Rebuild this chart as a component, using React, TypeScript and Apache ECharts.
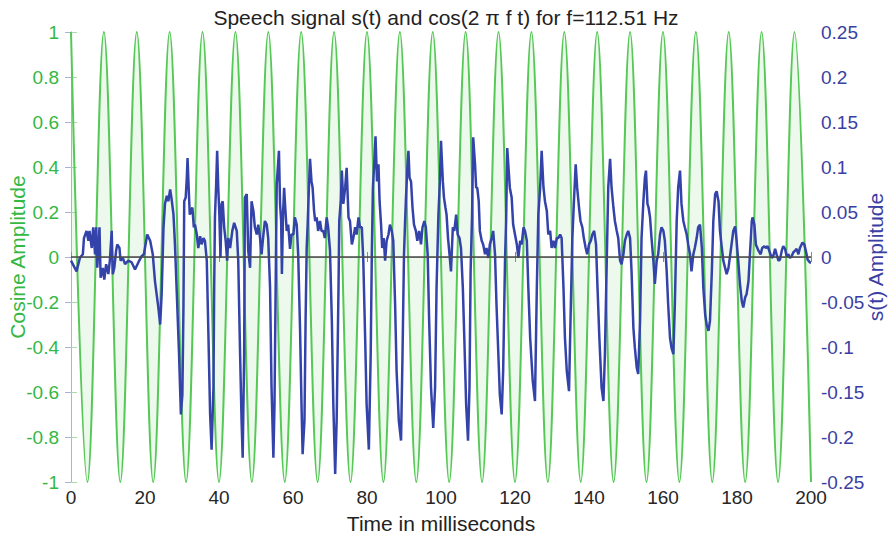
import React, { useEffect, useRef } from "react";
import * as echarts from "echarts";

// Cosine extrema (ms): peaks/troughs of the green curve
const cosTimes = [
  0, 4.444, 8.888, 13.332, 17.776, 22.22, 26.665, 31.109, 35.553, 39.997,
  44.441, 48.885, 53.329, 57.773, 62.217, 66.661, 71.106, 75.55, 79.994, 84.438,
  88.882, 93.326, 97.77, 102.214, 106.658, 111.102, 115.547, 119.991, 124.435, 128.879,
  133.323, 137.767, 142.211, 146.655, 151.099, 155.543, 159.988, 164.432, 168.876, 173.32,
  177.764, 182.208, 186.652, 191.096, 195.54, 200,
];
const cosValues = [
  1, -1, 1, -1, 1, -1, 1, -1, 1, -1,
  1, -1, 1, -1, 1, -1, 1, -1, 1, -1,
  1, -1, 1, -1, 1, -1, 1, -1, 1, -1,
  1, -1, 1, -1, 1, -1, 1, -1, 1, -1,
  1, -1, 1, -1, 1, -1,
];

const speechTimes = [
  0, 1.5, 2.4, 3.2, 3.5, 4.2, 4.7, 5.0, 5.6, 6.0, 6.5, 6.8, 7.1, 7.7, 8.0, 8.6, 9.0, 9.5, 10.1, 10.5,
  11.0, 11.3, 11.7, 12.2, 12.5, 13.1, 13.4, 14.0, 14.6, 15.5, 16.4, 17.3, 18.2, 19.1, 19.7, 20.6, 21.4, 22.1, 22.7, 23.6,
  24.1, 24.5, 25.0, 25.4, 25.9, 26.3, 26.8, 27.2, 27.7, 28.1, 28.6, 29.2, 29.7, 30.1, 30.4, 30.6, 31.0, 31.3, 31.5, 31.8,
  32.1, 32.4, 32.8, 33.2, 33.5, 34.0, 34.4, 34.9, 35.3, 35.8, 36.2, 36.7, 37.1, 37.6, 38.0, 38.5, 38.7, 38.9, 39.2, 39.5,
  39.8, 40.1, 40.4, 40.7, 41.0, 41.4, 41.8, 42.2, 42.5, 43.0, 43.6, 44.1, 44.8, 45.2, 45.7, 46.1, 46.4, 46.8, 47.0, 47.5,
  47.9, 48.4, 48.8, 49.3, 49.7, 50.2, 50.6, 51.1, 51.5, 52.0, 52.4, 52.9, 53.3, 53.8, 54.2, 54.7, 55.0, 55.4, 55.6, 55.9,
  56.2, 56.5, 56.8, 57.0, 57.3, 57.6, 57.9, 58.3, 58.7, 59.2, 59.6, 60.1, 60.5, 61.0, 61.4, 61.9, 62.3, 62.6, 63.1, 63.4,
  63.7, 64.0, 64.3, 64.6, 65.0, 65.3, 65.7, 66.0, 66.4, 66.8, 67.3, 67.7, 68.2, 68.6, 69.1, 69.5, 70.0, 70.5, 70.9, 71.4,
  71.8, 72.3, 72.5, 72.9, 73.2, 73.6, 74.1, 74.5, 75.0, 75.4, 75.9, 76.3, 76.8, 77.2, 77.7, 78.1, 78.6, 79.0, 79.5, 79.9,
  80.5, 81.0, 81.3, 81.6, 82.0, 82.3, 82.7, 83.1, 83.4, 83.8, 84.1, 84.5, 84.9, 85.3, 85.8, 86.2, 86.7, 87.1, 87.6, 88.0,
  88.6, 89.2, 89.6, 90.0, 90.3, 90.5, 90.9, 91.2, 91.5, 91.9, 92.3, 92.7, 93.2, 93.6, 94.1, 94.6, 95.0, 95.5, 95.9, 96.4,
  96.8, 97.3, 97.9, 98.4, 98.8, 99.3, 99.7, 100.0, 100.5, 100.8, 101.2, 101.5, 101.9, 102.3, 102.7, 103.2, 103.6, 104.1, 104.5, 105.0,
  105.4, 105.9, 106.3, 106.8, 107.3, 107.7, 108.0, 108.4, 108.7, 109.2, 109.5, 109.8, 110.2, 110.5, 111.0, 111.4, 111.9, 112.3, 112.8, 113.2,
  113.7, 114.1, 114.6, 115.0, 115.5, 115.9, 116.4, 116.8, 117.3, 117.6, 117.9, 118.3, 118.6, 119.1, 119.5, 120.0, 120.5, 120.9, 121.4, 121.8,
  122.3, 122.7, 123.2, 123.6, 124.1, 124.8, 125.4, 125.9, 126.3, 126.8, 127.2, 127.7, 128.1, 128.6, 129.0, 129.5, 129.9, 130.4, 130.8, 131.3,
  131.7, 132.2, 132.6, 133.1, 133.5, 134.0, 134.6, 135.0, 135.5, 135.9, 136.4, 136.8, 137.3, 137.7, 138.2, 138.6, 139.1, 139.5, 140.0, 140.5,
  140.9, 141.4, 141.9, 142.3, 142.8, 143.4, 143.9, 144.3, 144.8, 145.2, 145.7, 146.1, 146.6, 147.0, 147.5, 147.9, 148.4, 148.8, 149.3, 149.7,
  150.2, 150.6, 151.1, 151.5, 152.0, 152.4, 152.9, 153.3, 153.8, 154.2, 154.7, 155.1, 155.4, 155.8, 156.1, 156.5, 156.9, 157.4, 157.8, 158.3,
  158.7, 159.2, 159.6, 160.1, 160.5, 161.0, 161.4, 161.9, 162.3, 162.8, 163.2, 163.7, 164.1, 164.6, 165.0, 165.5, 165.9, 166.4, 166.8, 167.3,
  167.7, 168.2, 168.6, 169.1, 169.5, 170.0, 170.5, 170.9, 171.4, 171.8, 172.3, 172.7, 173.2, 173.6, 174.1, 174.5, 175.0, 175.4, 175.9, 176.3,
  177.2, 177.7, 178.4, 179.0, 179.5, 179.9, 180.4, 180.8, 181.3, 181.7, 182.2, 182.6, 183.1, 183.5, 184.0, 184.2, 184.7, 185.1, 185.8, 186.4,
  186.8, 187.4, 187.8, 188.3, 188.7, 189.4, 189.8, 190.3, 190.7, 191.2, 191.6, 192.1, 192.5, 193.0, 193.4, 193.9, 194.3, 194.8, 195.2, 195.7,
  196.1, 196.6, 197.0, 197.7, 198.2, 198.6, 199.1, 199.7, 200.0,
];
const speechValues = [
  -0.004, -0.016, -0.001, 0.003, 0.021, 0.029, 0.018, 0.029, 0.010, 0.033, 0.003, 0.033, -0.012, 0.033, -0.023, -0.012, -0.025, -0.008, -0.019, -0.004,
  0.029, -0.019, -0.012, 0.007, 0.014, 0.010, -0.004, -0.001, -0.008, -0.004, -0.006, -0.014, -0.006, 0.001, 0.003, 0.025, 0.018, 0.003, -0.027, -0.056,
  -0.075, -0.041, 0.033, 0.059, 0.068, 0.062, 0.075, 0.064, 0.047, 0.014, -0.041, -0.108, -0.175, -0.153, -0.053, 0.062, 0.066, 0.088, 0.110, 0.077,
  0.047, 0.051, 0.055, 0.033, 0.036, 0.025, 0.010, 0.023, 0.014, 0.021, 0.018, -0.004, -0.079, -0.175, -0.214, -0.145, -0.034, 0.044, 0.077, 0.118,
  0.077, 0.047, -0.001, 0.059, 0.062, 0.033, 0.018, -0.004, 0.021, 0.010, 0.029, 0.038, 0.029, -0.004, -0.108, -0.182, -0.223, -0.108, 0.066, 0.070,
  0.007, -0.012, 0.062, 0.051, 0.033, 0.025, 0.036, 0.021, 0.003, 0.025, 0.040, 0.036, 0.021, -0.034, -0.145, -0.223, -0.164, 0.003, 0.081, 0.099,
  0.118, 0.059, 0.040, -0.019, 0.047, 0.077, 0.055, 0.029, 0.036, 0.009, 0.025, 0.025, 0.044, 0.036, 0.003, -0.079, -0.164, -0.219, -0.182, -0.071,
  0.010, 0.040, 0.077, 0.109, 0.084, 0.077, 0.051, 0.040, 0.044, 0.029, 0.040, 0.029, 0.029, 0.021, 0.044, 0.033, 0.007, -0.071, -0.164, -0.241,
  -0.182, -0.034, 0.040, 0.062, 0.096, 0.059, 0.077, 0.099, 0.044, 0.040, 0.014, 0.021, 0.033, 0.025, 0.044, 0.033, 0.033, -0.004, -0.090, -0.164,
  -0.214, -0.108, 0.003, 0.077, 0.107, 0.134, 0.084, 0.103, 0.062, 0.036, 0.010, 0.021, -0.004, 0.018, 0.025, 0.036, 0.029, 0.018, -0.053, -0.127,
  -0.182, -0.204, -0.108, 0.003, 0.040, 0.062, 0.099, 0.118, 0.088, 0.084, 0.055, 0.036, 0.029, 0.018, 0.029, 0.014, 0.033, 0.040, 0.033, 0.003,
  -0.071, -0.145, -0.190, -0.145, -0.034, 0.047, 0.084, 0.129, 0.084, 0.066, 0.055, 0.047, 0.021, 0.003, -0.016, 0.033, 0.029, 0.047, 0.025, 0.021,
  0.010, -0.034, -0.090, -0.164, -0.204, -0.145, -0.016, 0.047, 0.133, 0.103, 0.077, 0.077, 0.062, 0.029, 0.018, 0.014, 0.003, 0.010, -0.001, 0.014,
  0.021, 0.029, 0.003, -0.053, -0.108, -0.153, -0.175, -0.127, -0.004, 0.040, 0.121, 0.096, 0.077, 0.066, 0.036, 0.025, 0.014, -0.001, 0.018, 0.014,
  0.033, 0.029, 0.018, -0.034, -0.090, -0.138, -0.160, -0.034, 0.047, 0.077, 0.118, 0.077, 0.062, 0.051, 0.025, 0.029, 0.010, 0.018, 0.010, 0.021,
  0.021, 0.025, 0.021, -0.034, -0.090, -0.127, -0.149, -0.071, 0.021, 0.059, 0.103, 0.077, 0.055, 0.040, 0.033, 0.021, 0.010, 0.003, 0.014, 0.018,
  0.025, 0.029, 0.014, -0.034, -0.090, -0.145, -0.160, -0.108, -0.004, 0.077, 0.109, 0.077, 0.055, 0.040, 0.029, 0.021, -0.004, -0.008, 0.003, 0.018,
  0.025, 0.029, 0.021, -0.016, -0.079, -0.101, -0.123, -0.130, -0.071, 0.021, 0.062, 0.088, 0.096, 0.059, 0.055, 0.044, 0.021, -0.004, -0.030, -0.004,
  0.003, 0.025, 0.033, 0.029, 0.018, -0.016, -0.053, -0.090, -0.101, -0.108, -0.053, 0.040, 0.077, 0.096, 0.059, 0.040, 0.033, 0.025, 0.014, 0.003,
  -0.016, 0.003, 0.010, 0.021, 0.033, 0.036, 0.010, -0.034, -0.064, -0.075, -0.082, -0.071, -0.016, 0.040, 0.070, 0.073, 0.062, 0.029, 0.010, -0.004,
  -0.019, -0.012, 0.010, 0.029, 0.034, 0.018, -0.008, -0.030, -0.049, -0.056, -0.045, -0.041, -0.027, 0.003, 0.040, 0.044, 0.036, 0.014, 0.007, 0.003,
  0.010, 0.012, 0.010, 0.012, 0.007, -0.001, 0.001, 0.009, 0.003, -0.004, -0.003, 0.007, 0.012, 0.009, 0.001, 0.003, -0.001, 0.001, 0.005, 0.007,
  0.009, 0.003, 0.010, 0.016, 0.014, 0.007, -0.003, -0.006, -0.006,
];

const GREEN = "#33b844";
const BLUE = "#3b3fa3";
const FONT = "Liberation Sans, Arial, sans-serif";

export default function App() {
  const ref = useRef<HTMLDivElement>(null);

  useEffect(() => {
    if (!ref.current) return;
    const chart = echarts.init(ref.current, undefined, { renderer: "svg" });
    const cosData = cosTimes.map((t, i) => [t, cosValues[i]]);
    const speechData = speechTimes.map((t, i) => [t, speechValues[i]]);

    chart.setOption({
      animation: false,
      backgroundColor: "#ffffff",
      textStyle: { fontFamily: FONT },
      title: {
        text: "Speech signal s(t) and cos(2 \u03c0 f t) for f=112.51 Hz",
        left: 441,
        textAlign: "center",
        top: 2,
        textStyle: { fontSize: 21, fontWeight: "normal", color: "#222", fontFamily: FONT },
      },
      grid: {
        left: 71,
        right: 79,
        top: 32,
        bottom: 57,
        containLabel: false,
        outerBoundsMode: "none",
      },
      xAxis: [
        {
          type: "value",
          min: 0,
          max: 200,
          interval: 20,
          position: "bottom",
          name: "Time in milliseconds",
          nameLocation: "middle",
          nameGap: 31,
          nameMoveOverlap: false,
          nameTextStyle: { fontSize: 21, color: "#222", fontFamily: FONT },
          axisLine: { show: true, lineStyle: { color: "#a0a0a0", width: 1 } },
          axisTick: { show: true, inside: true, length: 5, lineStyle: { color: "#888" } },
          axisLabel: { fontSize: 19, color: "#262626", margin: 6, fontFamily: FONT },
          splitLine: { show: false },
        },
        {
          type: "value",
          min: 0,
          max: 200,
          interval: 20,
          position: "top",
          axisLine: { show: true, lineStyle: { color: "#a0a0a0", width: 1 } },
          axisTick: { show: true, inside: true, length: 5, lineStyle: { color: "#888" } },
          axisLabel: { show: false },
          splitLine: { show: false },
        },
      ],
      yAxis: [
        {
          type: "value",
          min: -1,
          max: 1,
          interval: 0.2,
          position: "left",
          name: "Cosine Amplitude",
          nameLocation: "middle",
          nameGap: 43,
          nameMoveOverlap: false,
          nameRotate: 90,
          nameTextStyle: { fontSize: 21, color: GREEN, fontFamily: FONT },
          axisLine: { show: true, lineStyle: { color: "#a8dcac", width: 1 } },
          axisTick: { show: true, inside: true, length: 6, lineStyle: { color: "#a8dcac" } },
          axisLabel: { fontSize: 19, color: GREEN, margin: 12, fontFamily: FONT },
          splitLine: { show: false },
        },
        {
          type: "value",
          min: -0.25,
          max: 0.25,
          interval: 0.05,
          position: "right",
          name: "s(t) Amplitude",
          nameLocation: "middle",
          nameGap: 54,
          nameMoveOverlap: false,
          nameRotate: 90,
          nameTextStyle: { fontSize: 21, color: BLUE, fontFamily: FONT },
          axisLine: { show: true, lineStyle: { color: "#aeb0dc", width: 1 } },
          axisTick: { show: true, inside: true, length: 6, lineStyle: { color: "#aeb0dc" } },
          axisLabel: { fontSize: 19, color: BLUE, margin: 10, fontFamily: FONT },
          splitLine: { show: false },
        },
      ],
      series: [
        {
          name: "cos",
          type: "line",
          xAxisIndex: 0,
          yAxisIndex: 0,
          data: cosData,
          smooth: 0.363,
          showSymbol: false,
          symbol: "none",
          lineStyle: { color: "#55c855", width: 2 },
          areaStyle: { color: "rgba(120, 215, 120, 0.2)", origin: 0 },
          z: 2,
        },
        {
          name: "speech",
          type: "line",
          xAxisIndex: 0,
          yAxisIndex: 1,
          data: speechData,
          showSymbol: false,
          symbol: "none",
          lineStyle: { color: "#3343aa", width: 2.5 },
          markLine: {
            silent: true,
            symbol: "none",
            label: { show: false },
            lineStyle: { color: "#4a4a4a", width: 1.5, type: "solid" },
            data: [{ yAxis: 0 }],
          },
          z: 3,
        },
      ],
    });

    return () => chart.dispose();
  }, []);

  return (
    <div
      ref={ref}
      style={{ position: "fixed", left: 0, top: 0, width: 890, height: 539 }}
    />
  );
}
